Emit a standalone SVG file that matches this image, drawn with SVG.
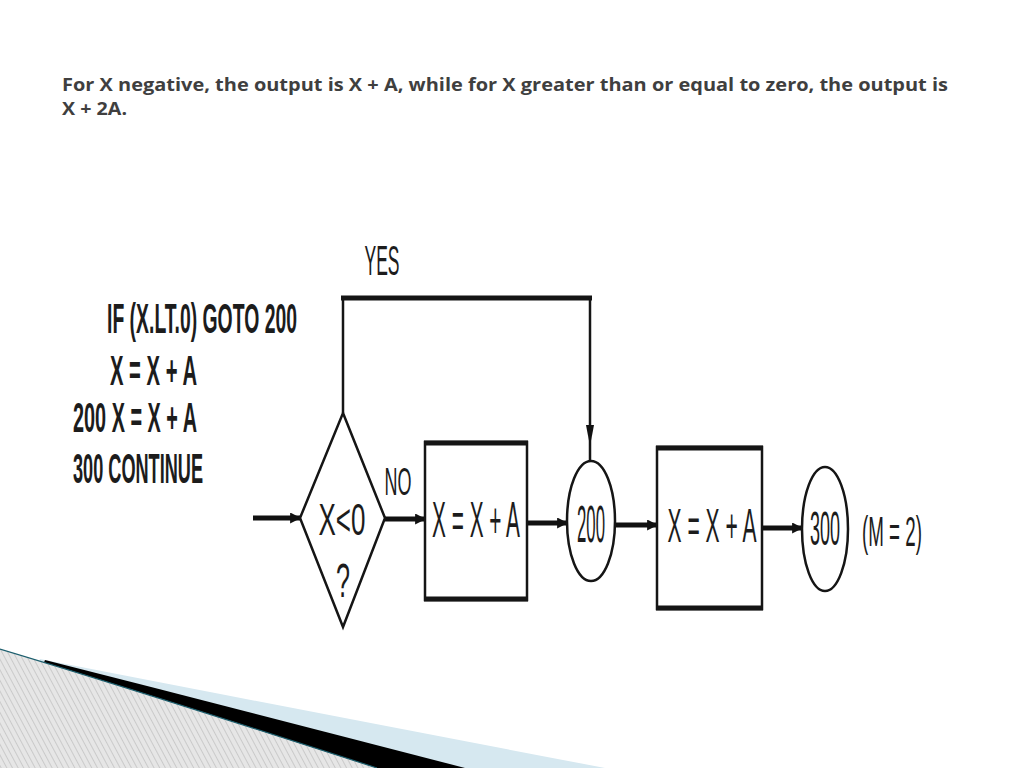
<svg xmlns="http://www.w3.org/2000/svg" width="1024" height="768" viewBox="0 0 1024 768">
<defs>
<style>
.title{font-family:"Open Sans","Noto Sans","Liberation Sans",sans-serif;font-weight:bold;font-size:17.5px;fill:#3f3f3f}
.lbl{font-family:"Liberation Sans","DejaVu Sans",sans-serif;fill:#1c1c1c;text-anchor:middle}
.code{font-family:"Liberation Sans","DejaVu Sans",sans-serif;fill:#1c1c1c;font-weight:bold;font-size:19.5px}
.shape{fill:none;stroke:#151515;stroke-width:2.5}
.edge{fill:none;stroke:#151515;stroke-width:2.5}
.thick{fill:none;stroke:#151515;stroke-width:5}
.flow{fill:none;stroke:#111;stroke-width:5;marker-end:url(#ah)}
</style>
<marker id="ah" viewBox="0 0 10 10" refX="9" refY="5" markerWidth="2.2" markerHeight="2.2" orient="auto" markerUnits="strokeWidth">
<path d="M0,0 L10,5 L0,10 Z" fill="#111"/>
</marker>
<pattern id="hatch" width="5" height="5" patternUnits="userSpaceOnUse" patternTransform="rotate(-28)">
<rect width="5" height="5" fill="#e6e6e6"/>
<line x1="0" y1="0" x2="0" y2="5" stroke="#b4b4b4" stroke-width="1.1"/>
</pattern>
</defs>
<rect width="1024" height="768" fill="#ffffff"/>

<g id="title">
<text class="title"><tspan x="62" y="91" textLength="886" lengthAdjust="spacingAndGlyphs">For X negative, the output is X + A, while for X greater than or equal to zero, the output is</tspan><tspan x="62" y="115" textLength="65" lengthAdjust="spacingAndGlyphs">X + 2A.</tspan></text>
</g>

<g id="code">
<text class="code" transform="translate(107,333) scale(1,2.15)" textLength="190" lengthAdjust="spacingAndGlyphs">IF (X.LT.0) GOTO 200</text>
<text class="code" transform="translate(110,385) scale(1,2.15)" textLength="87" lengthAdjust="spacingAndGlyphs">X = X + A</text>
<text class="code" transform="translate(73,432) scale(1,2.15)" textLength="124" lengthAdjust="spacingAndGlyphs">200 X = X + A</text>
<text class="code" transform="translate(73,483) scale(1,2.15)" textLength="130" lengthAdjust="spacingAndGlyphs">300 CONTINUE</text>
</g>

<g id="connectors">
<line class="edge" x1="343" y1="413" x2="343" y2="298"/>
<line class="thick" x1="341" y1="298" x2="592" y2="298"/>
<line class="edge" x1="590" y1="298" x2="590" y2="460"/>
<path d="M586,425 L594,425 L590,446 Z" fill="#111"/>
<line class="flow" x1="253" y1="518" x2="300" y2="518"/>
<line class="flow" x1="385" y1="519" x2="425" y2="519"/>
<line class="flow" x1="527" y1="523" x2="567" y2="523"/>
<line class="flow" x1="615" y1="525" x2="657" y2="525"/>
<line class="flow" x1="762" y1="528" x2="802" y2="528"/>
<text class="lbl" transform="translate(382,275) scale(1,2.4)" font-size="17.5" textLength="35" lengthAdjust="spacingAndGlyphs">YES</text>
<text class="lbl" transform="translate(398,495) scale(1,2.17)" font-size="18" textLength="27" lengthAdjust="spacingAndGlyphs">NO</text>
</g>

<g id="decision">
<polygon class="shape" points="343,413 385,518 343,627 300,518"/>
<text class="lbl" transform="translate(342,535) scale(1,1.72)" font-size="26" textLength="47" lengthAdjust="spacingAndGlyphs">X&lt;0</text>
<text class="lbl" transform="translate(343,597) scale(1,1.9)" font-size="25" textLength="14" lengthAdjust="spacingAndGlyphs">?</text>
</g>

<g id="process1">
<rect class="shape" x="425" y="442" width="102" height="158"/>
<line class="thick" x1="424" y1="443" x2="528" y2="443"/>
<line class="thick" x1="424" y1="599" x2="528" y2="599"/>
<text class="lbl" transform="translate(476,537) scale(1,2.45)" font-size="20.5" textLength="88" lengthAdjust="spacingAndGlyphs">X = X + A</text>
</g>

<g id="label200">
<ellipse class="shape" cx="591" cy="521" rx="24" ry="60"/>
<text class="lbl" transform="translate(591,542) scale(1,3.1)" font-size="16.8" textLength="28" lengthAdjust="spacingAndGlyphs">200</text>
</g>

<g id="process2">
<rect class="shape" x="657" y="447" width="105" height="162"/>
<line class="thick" x1="656" y1="448" x2="763" y2="448"/>
<line class="thick" x1="656" y1="608" x2="763" y2="608"/>
<text class="lbl" transform="translate(712,542) scale(1,2.28)" font-size="20.8" textLength="89" lengthAdjust="spacingAndGlyphs">X = X + A</text>
</g>

<g id="label300">
<ellipse class="shape" cx="825" cy="529" rx="23" ry="62"/>
<text class="lbl" transform="translate(825,545) scale(1,2.7)" font-size="18" textLength="30" lengthAdjust="spacingAndGlyphs">300</text>
</g>

<g id="note">
<text class="lbl" transform="translate(892,546) scale(1,2.23)" font-size="18.8" textLength="60" lengthAdjust="spacingAndGlyphs">(M = 2)</text>
</g>

<g id="decoration">
<path d="M40,659 Q250,700 605,768 L0,768 Z" fill="#d6e8f0"/>
<path d="M45,660 Q250,712 465,768 L0,768 Z" fill="#000000"/>
<path d="M0,649 Q130,688 377,768 L0,768 Z" fill="url(#hatch)"/>
<path d="M0,649 Q130,688 377,768" fill="none" stroke="#1d5f6e" stroke-width="1.2"/>
</g>
</svg>
